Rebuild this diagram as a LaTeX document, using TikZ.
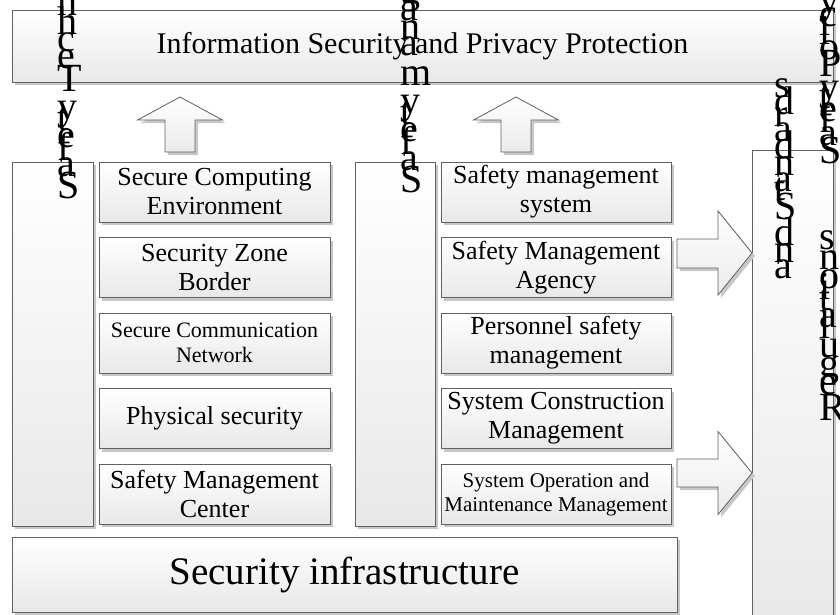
\documentclass[tikz,border=0pt]{standalone}
\usepackage{fontspec}
\setmainfont{Liberation Serif}
\usetikzlibrary{shadows}
\newcommand\vletfont{\fontsize{40}{40}\selectfont}
\newcommand\vstk[3]{%
  \foreach \c/\yy [count=\k] in {#3}{%
    \node[vlet] (#1\k) at (#2,\yy) {\c};
  }%
}
\begin{document}
\begin{tikzpicture}[x=1pt,y=-1pt,
  box/.style={draw=black!62, line width=0.8pt, top color=white, bottom color=black!9,
    drop shadow={shadow xshift=3pt, shadow yshift=-3pt, fill=black!22, opacity=1},
    inner sep=0pt, align=center, text=black},
  arrowshape/.style={draw=black!62, line width=0.8pt, top color=white, bottom color=black!8,
    drop shadow={shadow xshift=3pt, shadow yshift=-3pt, fill=black!22, opacity=1}},
  big/.style={font=\fontsize{26}{29}\selectfont},
  mid/.style={font=\fontsize{22}{25}\selectfont},
  sml/.style={font=\fontsize{21}{24}\selectfont},
  vlet/.style={anchor=base west, inner sep=0pt, font=\vletfont, text=black}]
\useasboundingbox (0,0) rectangle (840,614);
\clip (0,0) rectangle (840,614);

% top box
\node[box, minimum width=821, minimum height=72, font=\fontsize{30}{33}\selectfont]
  (top) at (422.5,46) {Information Security and Privacy Protection};

% up arrows
\draw[arrowshape] (180,97) -- (222.5,120) -- (195,120) -- (195,152) -- (165,152)
  -- (165,120) -- (137.5,120) -- cycle;
\draw[arrowshape] (516,97) -- (558.5,120) -- (531,120) -- (531,152) -- (501,152)
  -- (501,120) -- (473.5,120) -- cycle;

% tall boxes
\node[box, minimum width=81, minimum height=364] (ltall) at (52.5,344) {};
\node[box, minimum width=80, minimum height=364] (mtall) at (395,344) {};
\node[box, minimum width=81, minimum height=480] (rtall) at (792.5,390) {};

% left sub boxes
\node[box, big, minimum width=231, minimum height=60] (l1) at (214.5,192) {Secure Computing\\Environment};
\node[box, big, minimum width=231, minimum height=60] (l2) at (214.5,267.5) {Security Zone\\Border};
\node[box, mid, minimum width=231, minimum height=60] (l3) at (214.5,343) {Secure Communication\\Network};
\node[box, big, minimum width=231, minimum height=60] (l4) at (214.5,418.5) {Physical security};
\node[box, big, minimum width=231, minimum height=60] (l5) at (214.5,494) {Safety Management\\Center};

% right sub boxes
\node[box, big, minimum width=230, minimum height=60] (r1) at (556,192) {Safety management\\system};
\node[box, big, minimum width=230, minimum height=60] (r2) at (556,267.5) {Safety Management\\Agency};
\node[box, big, minimum width=230, minimum height=60] (r3) at (556,343) {Personnel safety\\management};
\node[box, big, minimum width=230, minimum height=60] (r4) at (556,418.5) {System Construction\\Management};
\node[box, sml, minimum width=230, minimum height=60] (r5) at (556,494) {System Operation and\\Maintenance Management};

% right arrows
\draw[arrowshape] (677,239) -- (718,239) -- (718,211) -- (752,253) -- (718,295)
  -- (718,268) -- (677,268) -- cycle;
\draw[arrowshape] (677,459) -- (718,459) -- (718,431.5) -- (752,473) -- (718,514.5)
  -- (718,487) -- (677,487) -- cycle;

% bottom box
\node[box, minimum width=665, minimum height=75, font=\fontsize{39}{44}\selectfont]
  (infra) at (344.5,574.5) {Security infrastructure};

% stacked vertical letters
\vstk{lv}{57}{S/198, a/176.9, f/160, e/147.4, t/130.5, y/119.9, T/91.4, e/68.2,
  c/51.3, h/34.5, n/15.5, o/-3.5, l/-22.5}
\vstk{mv}{400}{S/192, a/170.9, f/154, e/141.4, t/124.5, y/113.9, m/85.4, a/55.8,
  n/39, a/20, g/3.1, e/-15.9}
\vstk{pv}{819}{S/163, a/145.9, f/132.2, e/121.9, t/108.2, y/99.6, P/76.5, o/59.4,
  l/44, i/35.4, c/26.8, y/13.1}
\vstk{sv}{774}{a/278, n/262.7, d/245.5, S/219.7, t/200.6, a/191, n/175.7, d/158.5,
  a/141.3, r/126, d/114.5, s/97.3}
\vstk{gv}{819}{R/420, e/394.1, g/376.9, u/357.5, l/338.1, a/327.3, t/310.1, i/299.3,
  o/288.5, n/269.1, s/249.7}
\end{tikzpicture}
\end{document}
